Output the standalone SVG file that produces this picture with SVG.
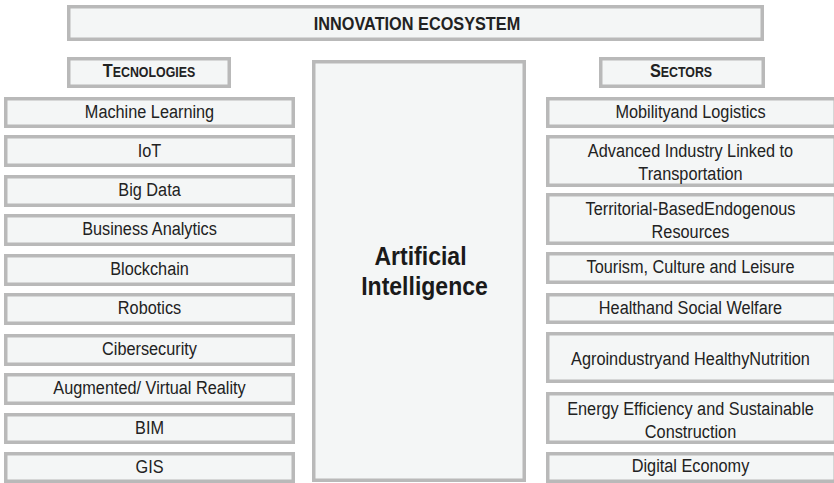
<svg xmlns="http://www.w3.org/2000/svg" width="834" height="483" viewBox="0 0 834 483">
<style>
rect{fill:#f4f6f6;stroke:#b9b9b9;stroke-width:3.5;}
text{font-family:"Liberation Sans",Arial,sans-serif;font-size:18.4px;fill:#222;text-anchor:middle;}
.b{font-weight:bold;}
.ai{font-size:26px;font-weight:bold;fill:#1a1a1a;}
.sc{font-size:14px;}
</style>
<rect width="834" height="483" style="fill:#ffffff;stroke:none"/>
<g id="connectors"></g>
<g id="ecosystem"><rect x="68.75" y="6.75" width="693.5" height="32.5"/><text class="b" transform="translate(417 29.5) scale(0.885 1)">INNOVATION ECOSYSTEM</text></g>
<g id="tecnologies"><rect x="68.75" y="58.75" width="160.5" height="27.5"/><text class="b" transform="translate(149 76.7) scale(0.885 1)">T<tspan class="sc">ECNOLOGIES</tspan></text></g>
<g id="sectors"><rect x="600.75" y="58.75" width="162.5" height="27.5"/><text class="b" transform="translate(681 76.7) scale(0.885 1)">S<tspan class="sc">ECTORS</tspan></text></g>
<g id="ai"><rect x="313.75" y="61.75" width="210.5" height="418.5"/><text class="ai" transform="translate(420.5 265) scale(0.885 1)">Artificial</text><text class="ai" transform="translate(424.5 295) scale(0.885 1)">Intelligence</text></g>
<g id="t1"><rect x="5.75" y="98.75" width="287.5" height="27.5"/><text transform="translate(149.5 118.3) scale(0.885 1)">Machine Learning</text></g>
<g id="t2"><rect x="5.75" y="136.75" width="287.5" height="28.5"/><text transform="translate(149.5 156.5) scale(0.885 1)">IoT</text></g>
<g id="t3"><rect x="5.75" y="176.75" width="287.5" height="28.5"/><text transform="translate(149.5 196.3) scale(0.885 1)">Big Data</text></g>
<g id="t4"><rect x="5.75" y="215.75" width="287.5" height="28.5"/><text transform="translate(149.5 235.3) scale(0.885 1)">Business Analytics</text></g>
<g id="t5"><rect x="5.75" y="255.75" width="287.5" height="28.5"/><text transform="translate(149.5 275.3) scale(0.885 1)">Blockchain</text></g>
<g id="t6"><rect x="5.75" y="294.75" width="287.5" height="28.5"/><text transform="translate(149.5 314.3) scale(0.885 1)">Robotics</text></g>
<g id="t7"><rect x="5.75" y="335.75" width="287.5" height="28.5"/><text transform="translate(149.5 355.3) scale(0.885 1)">Cibersecurity</text></g>
<g id="t8"><rect x="5.75" y="374.75" width="287.5" height="28.5"/><text transform="translate(149.5 394.3) scale(0.885 1)">Augmented/ Virtual Reality</text></g>
<g id="t9"><rect x="5.75" y="414.75" width="287.5" height="27.5"/><text transform="translate(149.5 434) scale(0.885 1)">BIM</text></g>
<g id="t10"><rect x="5.75" y="453.75" width="287.5" height="27.5"/><text transform="translate(149.5 472.5) scale(0.885 1)">GIS</text></g>
<g id="s1"><rect x="547.75" y="98.75" width="287.5" height="27.5"/><text transform="translate(690.5 118.3) scale(0.885 1)">Mobilityand Logistics</text></g>
<g id="s2"><rect x="547.75" y="136.75" width="287.5" height="48.5"/><text transform="translate(690.5 157) scale(0.885 1)">Advanced Industry Linked to</text><text transform="translate(690.5 179.5) scale(0.885 1)">Transportation</text></g>
<g id="s3"><rect x="547.75" y="194.75" width="287.5" height="48.5"/><text transform="translate(690.5 215) scale(0.885 1)">Territorial-BasedEndogenous</text><text transform="translate(690.5 238) scale(0.885 1)">Resources</text></g>
<g id="s4"><rect x="547.75" y="253.75" width="287.5" height="28.5"/><text transform="translate(690.5 273.3) scale(0.885 1)">Tourism, Culture and Leisure</text></g>
<g id="s5"><rect x="547.75" y="294.75" width="287.5" height="27.5"/><text transform="translate(690.5 313.5) scale(0.885 1)">Healthand Social Welfare</text></g>
<g id="s6"><rect x="547.75" y="333.75" width="287.5" height="47.5"/><text transform="translate(690.5 365) scale(0.885 1)">Agroindustryand HealthyNutrition</text></g>
<g id="s7"><rect x="547.75" y="393.75" width="287.5" height="48.5"/><text transform="translate(690.5 415) scale(0.885 1)">Energy Efficiency and Sustainable</text><text transform="translate(690.5 438) scale(0.885 1)">Construction</text></g>
<g id="s8"><rect x="547.75" y="453.75" width="287.5" height="27.5"/><text transform="translate(690.5 472) scale(0.885 1)">Digital Economy</text></g>
</svg>
